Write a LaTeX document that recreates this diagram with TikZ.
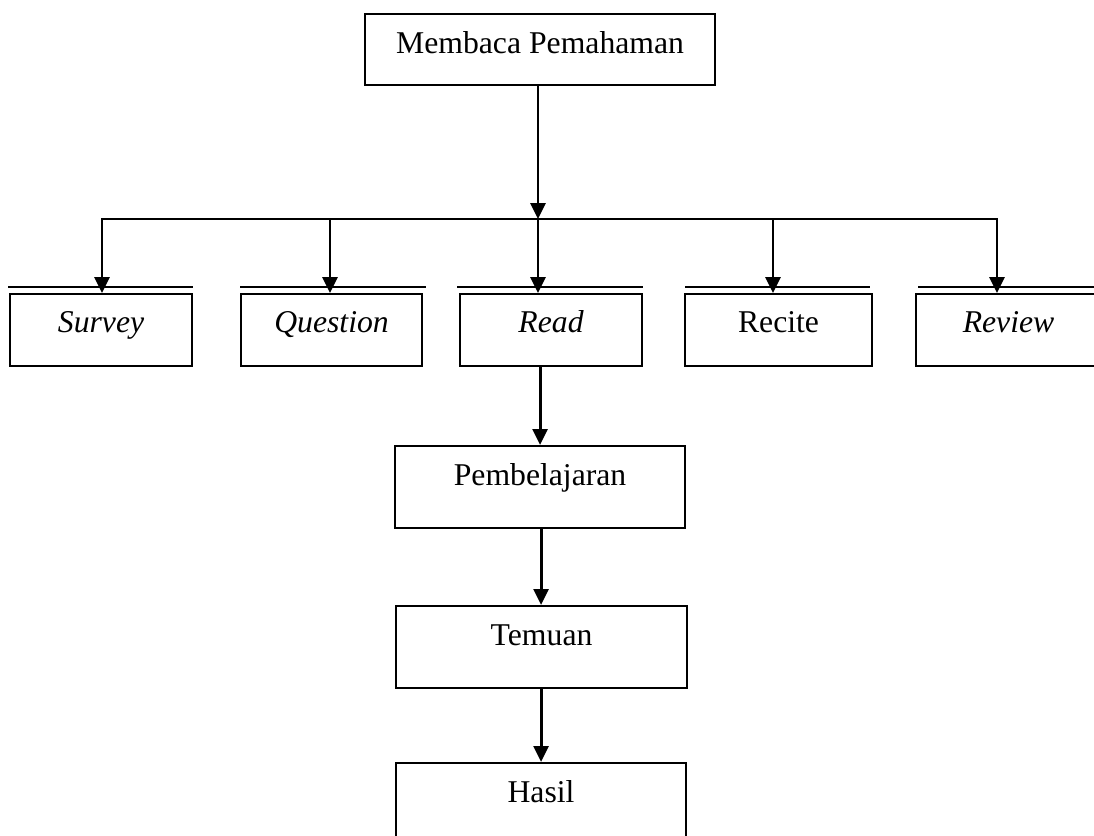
\documentclass[tikz,border=0pt]{standalone}
\usepackage{fontspec}
\setmainfont{Liberation Serif}
\usetikzlibrary{arrows.meta}
\begin{document}
\begin{tikzpicture}[x=1pt,y=-1pt,
  box/.style={draw, line width=2.1pt, rectangle, inner sep=0pt, anchor=north west},
  lbl/.style={anchor=base, inner sep=0pt, font=\fontsize{31.7}{38}\selectfont},
  arr/.style={line width=2.9pt, line join=miter, -{Triangle[width=15pt,length=16pt]}},
  dbl/.style={line width=2.1pt}]
\useasboundingbox (0,0) rectangle (1094,835);
\clip (0,0) rectangle (1094,835);

% boxes
\node[box, minimum width=350pt, minimum height=71pt] (top) at (364,13) {};
\node[box, minimum width=182pt, minimum height=72pt] (survey) at (9,293) {};
\node[box, minimum width=181pt, minimum height=72pt] (question) at (240,293) {};
\node[box, minimum width=182pt, minimum height=72pt] (read) at (459,293) {};
\node[box, minimum width=187pt, minimum height=72pt] (recite) at (684,293) {};
\node[box, minimum width=185pt, minimum height=72pt] (review) at (915,293) {};
\node[box, minimum width=290pt, minimum height=82pt] (pemb) at (394,445) {};
\node[box, minimum width=291pt, minimum height=82pt] (temuan) at (395,605) {};
\node[box, minimum width=290pt, minimum height=85pt] (hasil) at (395,762) {};

% labels
\node[lbl] (ttop) at ([yshift=-40pt]top.north) {Membaca Pemahaman};
\node[lbl] (tsurvey) at ([yshift=-39pt]survey.north) {\itshape Survey};
\node[lbl] (tquestion) at ([yshift=-39pt]question.north) {\itshape Question};
\node[lbl] (tread) at ([yshift=-39pt]read.north) {\itshape Read};
\node[lbl] (trecite) at ([yshift=-39pt]recite.north) {Recite};
\node[lbl] (treview) at ([yshift=-39pt]review.north) {\itshape Review};
\node[lbl] (tpemb) at ([yshift=-40pt]pemb.north) {Pembelajaran};
\node[lbl] (ttemuan) at ([yshift=-40pt]temuan.north) {Temuan};
\node[lbl] (thasil) at ([yshift=-40pt]hasil.north) {Hasil};

% double lines above the second-row boxes
\draw[dbl] ([xshift=-1pt,yshift=6pt]survey.north west) -- ([yshift=6pt]survey.north east);
\draw[dbl] ([yshift=6pt]question.north west) -- ([xshift=3pt,yshift=6pt]question.north east);
\draw[dbl] ([xshift=-2pt,yshift=6pt]read.north west) -- ([yshift=6pt]read.north east);
\draw[dbl] ([xshift=1pt,yshift=6pt]recite.north west) -- ([xshift=-3pt,yshift=6pt]recite.north east);
\draw[dbl] ([xshift=3pt,yshift=6pt]review.north west) -- ([yshift=6pt]review.north east);

% connectors
\coordinate (hub) at (538,219);
\coordinate (hl) at (102,219);
\coordinate (hr) at (997,219);
\coordinate (hq) at (330,219);
\coordinate (hc) at (773,219);
\draw[arr] (top.south -| hub) -- (hub);
\draw[arr] (hub) -- (hl) -- (hl |- survey.north);
\draw[arr] (hub) -- (hr) -- (hr |- review.north);
\draw[arr] (hq) -- (hq |- question.north);
\draw[arr] (hub) -- (hub |- read.north);
\draw[arr] (hc) -- (hc |- recite.north);
\draw[arr] (pemb.north |- read.south) -- (pemb.north);
\draw[arr] (hasil.north |- pemb.south) -- (hasil.north |- temuan.north);
\draw[arr] (hasil.north |- temuan.south) -- (hasil.north);
\end{tikzpicture}
\end{document}
